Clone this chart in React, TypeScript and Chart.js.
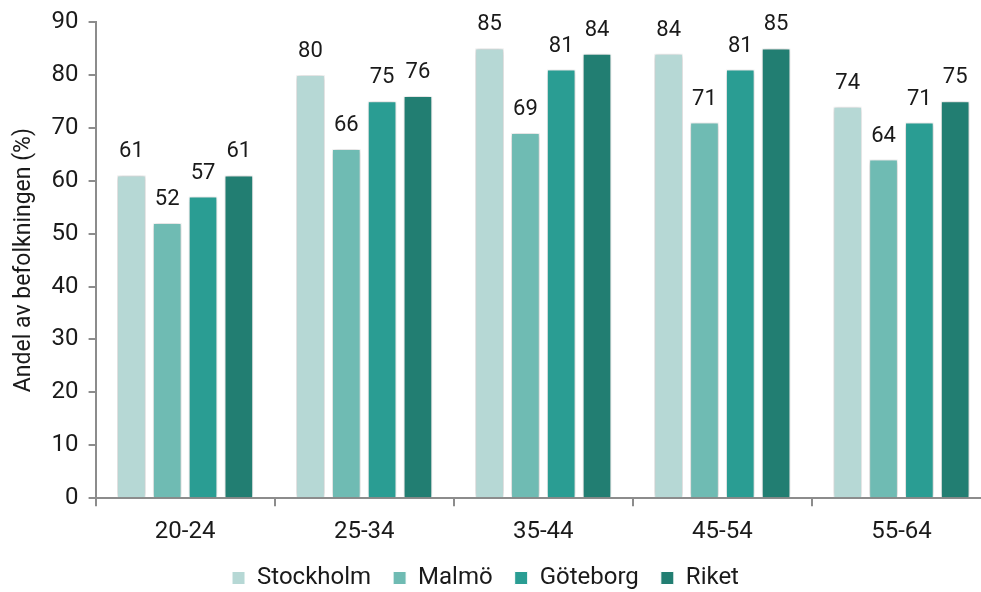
import React, { useEffect, useRef } from "react";
import { Chart, registerables } from "chart.js";

Chart.register(...registerables);

const categories = ["20-24", "25-34", "35-44", "45-54", "55-64"];
const seriesNames = ["Stockholm", "Malmö", "Göteborg", "Riket"];
const stockholm = [61, 80, 85, 84, 74];
const malmo = [52, 66, 69, 71, 64];
const goteborg = [57, 75, 81, 81, 71];
const riket = [61, 76, 84, 85, 75];
const colors = ["#b6d8d5", "#6fbbb3", "#2a9d93", "#227e72"];
const yTitle = "Andel av befolkningen (%)";

const FONT = "Roboto, 'Noto Sans', sans-serif";
const TEXT = "#1a1a1a";
const AXIS = "#8c8c8c";

const shadowPlugin = {
  id: "barShadow",
  beforeDatasetDraw(chart: any) {
    const ctx = chart.ctx;
    ctx.save();
    ctx.shadowColor = "rgba(0,0,0,0.3)";
    ctx.shadowBlur = 5;
    ctx.shadowOffsetX = 0;
    ctx.shadowOffsetY = 0;
  },
  afterDatasetDraw(chart: any) {
    chart.ctx.restore();
  },
};

const labelPlugin = {
  id: "barLabels",
  afterDatasetsDraw(chart: any) {
    const ctx = chart.ctx;
    ctx.save();
    ctx.font = `22px ${FONT}`;
    ctx.fillStyle = TEXT;
    ctx.textAlign = "center";
    ctx.textBaseline = "alphabetic";
    chart.data.datasets.forEach((ds: any, i: number) => {
      const meta = chart.getDatasetMeta(i);
      meta.data.forEach((bar: any, j: number) => {
        ctx.fillText(String(ds.data[j]), bar.x, bar.y - 18);
      });
    });
    ctx.restore();
  },
};

const legendTweak = {
  id: "legendTweak",
  beforeLayout(chart: any) {
    const lg = chart.legend;
    if (lg && !lg._patched) {
      const orig = lg.fit.bind(lg);
      lg.fit = function () {
        orig();
        this.height = 35;
      };
      lg._patched = true;
    }
  },
  afterLayout(chart: any) {
    const lg = chart.legend;
    if (lg) {
      lg.left -= 15;
      lg.right -= 15;
      lg.top -= 13;
      lg.height += 13;
    }
  },
};

export default function App() {
  const ref = useRef<HTMLCanvasElement>(null);
  useEffect(() => {
    document.body.style.margin = "0";
    const data = [stockholm, malmo, goteborg, riket];
    const chart = new Chart(ref.current!, {
      type: "bar",
      data: {
        labels: categories,
        datasets: seriesNames.map((name, i) => ({
          label: name,
          data: data[i],
          backgroundColor: colors[i],
          borderColor: "#ffffff",
          borderWidth: 1,
          categoryPercentage: 0.8,
          barPercentage: 0.8,
        })),
      },
      options: {
        animation: false,
        responsive: false,
        devicePixelRatio: 1,
        layout: { padding: { top: 1, right: 2, left: 10, bottom: 0 } },
        plugins: {
          legend: {
            position: "bottom",
            labels: {
              boxWidth: 13,
              boxHeight: 13,
              padding: 22,
              color: TEXT,
              font: { family: FONT, size: 24 },
            },
          },
          tooltip: { enabled: false },
        },
        scales: {
          x: {
            grid: {
              display: true,
              drawOnChartArea: false,
              drawTicks: true,
              tickLength: 8,
              color: AXIS,
              lineWidth: 2,
            },
            border: { color: AXIS, width: 2 },
            ticks: {
              color: TEXT,
              font: { family: FONT, size: 24 },
              padding: 11,
            },
          },
          y: {
            min: 0,
            max: 90,
            ticks: {
              stepSize: 10,
              color: TEXT,
              font: { family: FONT, size: 24, lineHeight: 1 },
              padding: 10,
            },
            grid: {
              display: true,
              drawOnChartArea: false,
              drawTicks: true,
              tickLength: 7,
              color: AXIS,
              lineWidth: 2,
            },
            border: { color: AXIS, width: 2 },
            title: {
              display: true,
              text: yTitle,
              color: TEXT,
              font: { family: FONT, size: 23 },
              padding: { top: 0, bottom: 4 },
            },
          },
        },
      },
      plugins: [shadowPlugin, labelPlugin, legendTweak],
    });
    return () => chart.destroy();
  }, []);
  return (
    <div style={{ width: 981, height: 592, overflow: "hidden" }}>
      <canvas ref={ref} width={993} height={592} style={{ display: "block" }} />
    </div>
  );
}
